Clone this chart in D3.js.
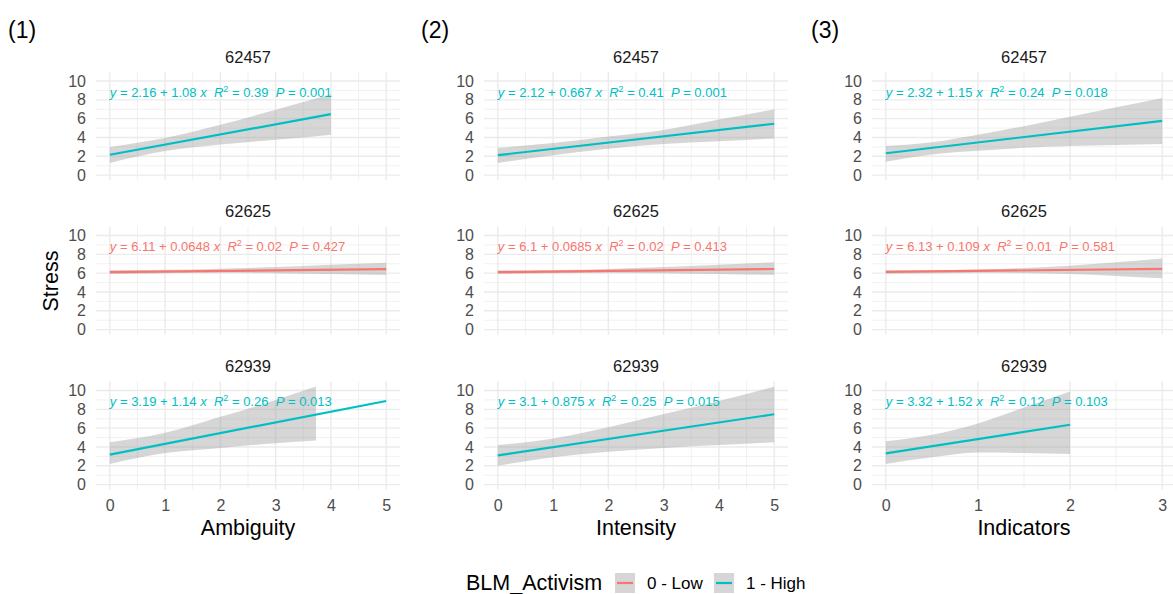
<!DOCTYPE html>
<html>
<head>
<meta charset="utf-8">
<script src="https://cdn.jsdelivr.net/npm/d3@7"></script>
<style>
  body { margin: 0; background: #fff; }
  svg { font-family: "Liberation Sans", Arial, sans-serif; }
  text { white-space: pre; }
</style>
</head>
<body>
<script>
const W = 1173, H = 594;

// facet strips, groups and panels
const facets = ["62457", "62625", "62939"];
const groups = ["0 - Low", "1 - High"];
const groupColors = ["#F8766D", "#00BFC4"];
const panelLabels = ["(1)", "(2)", "(3)"];
const predictors = ["Ambiguity", "Intensity", "Indicators"];
const xMaxes = [5, 5, 3];
const yTicks = [0, 2, 4, 6, 8, 10];
const facetGroup = [1, 0, 1];

// (1) Ambiguity
const ambBandX  = [[0, 1, 2, 3, 4], [0, 1, 2, 3, 4, 5], [0, 1, 2, 3, 3.73]];
const ambBandLo = [[1.3, 2.55, 3.25, 3.75, 4.3], [5.9, 6.0, 6.04, 6.0, 5.9, 5.8], [2.2, 3.35, 3.9, 4.4, 4.7]];
const ambBandHi = [[3.0, 3.95, 5.35, 6.95, 8.6], [6.32, 6.35, 6.48, 6.65, 6.9, 7.1], [4.5, 5.5, 7.2, 9.0, 10.44]];
const ambLineX  = [[0, 4], [0, 5], [0, 5]];
const ambLineY  = [[2.16, 6.48], [6.11, 6.43], [3.19, 8.89]];
const ambEq     = [["2.16", "1.08", "0.39", "0.001"], ["6.11", "0.0648", "0.02", "0.427"], ["3.19", "1.14", "0.26", "0.013"]];

// (2) Intensity
const intBandX  = [[0, 1, 2, 3, 4, 5], [0, 1, 2, 3, 4, 5], [0, 1, 2, 3, 4, 5]];
const intBandLo = [[1.3, 2.1, 2.8, 3.3, 3.6, 3.9], [5.92, 6.0, 6.05, 6.0, 5.9, 5.8], [2.0, 2.9, 3.5, 3.9, 4.2, 4.5]];
const intBandHi = [[2.9, 3.4, 4.1, 4.8, 5.9, 7.0], [6.3, 6.33, 6.45, 6.65, 6.9, 7.15], [4.2, 4.9, 6.1, 7.5, 8.9, 10.4]];
const intLineX  = [[0, 5], [0, 5], [0, 5]];
const intLineY  = [[2.12, 5.46], [6.1, 6.44], [3.1, 7.48]];
const intEq     = [["2.12", "0.667", "0.41", "0.001"], ["6.1", "0.0685", "0.02", "0.413"], ["3.1", "0.875", "0.25", "0.015"]];

// (3) Indicators
const indBandX  = [[0, 0.5, 1, 1.5, 2, 2.5, 3], [0, 0.5, 1, 1.5, 2, 2.5, 3], [0, 0.5, 1, 1.5, 2]];
const indBandLo = [[1.42, 2.2, 2.6, 2.9, 3.1, 3.2, 3.3], [5.95, 6.0, 6.05, 6.02, 5.9, 5.7, 5.45], [2.2, 2.9, 3.4, 3.35, 3.25]];
const indBandHi = [[3.1, 3.5, 4.3, 5.2, 6.2, 7.2, 8.2], [6.3, 6.33, 6.4, 6.55, 6.8, 7.15, 7.55], [4.6, 5.3, 6.5, 8.2, 9.9]];
const indLineX  = [[0, 3], [0, 3], [0, 2]];
const indLineY  = [[2.32, 5.77], [6.13, 6.46], [3.32, 6.36]];
const indEq     = [["2.32", "1.15", "0.24", "0.018"], ["6.13", "0.109", "0.01", "0.581"], ["3.32", "1.52", "0.12", "0.103"]];

const panels = [
  {bandX: ambBandX, lo: ambBandLo, hi: ambBandHi, lineX: ambLineX, lineY: ambLineY, eq: ambEq},
  {bandX: intBandX, lo: intBandLo, hi: intBandHi, lineX: intLineX, lineY: intLineY, eq: intEq},
  {bandX: indBandX, lo: indBandLo, hi: indBandHi, lineX: indLineX, lineY: indLineY, eq: indEq}
];

// layout
const colLeft = [96, 484, 872];
const colWidth = 304;
const labelX = [8, 421, 811];
const rowTop = [72, 226.5, 381.5];
const rowH = 108;
const gridColor = "#EBEBEB";

const svg = d3.select("body").append("svg")
  .attr("width", W)
  .attr("height", H);

function drawEq(g, x, y, color, e) {
  const t = g.append("text")
    .attr("x", x)
    .attr("y", y)
    .attr("fill", color)
    .style("font-size", "13px");
  t.append("tspan").attr("font-style", "italic").text("y");
  t.append("tspan").text(" = " + e[0] + " + " + e[1] + " ");
  t.append("tspan").attr("font-style", "italic").text("x");
  t.append("tspan").text("  ");
  t.append("tspan").attr("font-style", "italic").text("R");
  t.append("tspan").attr("dy", -5).style("font-size", "9px").text("2");
  t.append("tspan").attr("dy", 5).text(" = " + e[2] + "  ");
  t.append("tspan").attr("font-style", "italic").text("P");
  t.append("tspan").text(" = " + e[3]);
}

panels.forEach(function(p, c) {
  const xMax = xMaxes[c];
  const xScale = d3.scaleLinear()
    .domain([-0.05 * xMax, 1.05 * xMax])
    .range([colLeft[c], colLeft[c] + colWidth]);

  svg.append("text")
    .attr("x", labelX[c])
    .attr("y", 38)
    .attr("fill", "#000")
    .style("font-size", "23px")
    .text(panelLabels[c]);

  facets.forEach(function(f, r) {
    const yScale = d3.scaleLinear()
      .domain([-0.52, 10.96])
      .range([rowTop[r] + rowH, rowTop[r]]);
    const g = svg.append("g");
    const color = groupColors[facetGroup[r]];

    // grid: minor then major
    const xMinor = d3.range(0.5, xMax, 1);
    const xMajor = d3.range(0, xMax + 1, 1);
    const yMinor = [1, 3, 5, 7, 9];

    g.selectAll(".ymin").data(yMinor).enter().append("line")
      .attr("x1", colLeft[c]).attr("x2", colLeft[c] + colWidth)
      .attr("y1", d => yScale(d)).attr("y2", d => yScale(d))
      .attr("stroke", gridColor).attr("stroke-width", 0.7);
    g.selectAll(".xmin").data(xMinor).enter().append("line")
      .attr("x1", d => xScale(d)).attr("x2", d => xScale(d))
      .attr("y1", rowTop[r]).attr("y2", rowTop[r] + rowH)
      .attr("stroke", gridColor).attr("stroke-width", 0.7);
    g.selectAll(".ymaj").data(yTicks).enter().append("line")
      .attr("x1", colLeft[c]).attr("x2", colLeft[c] + colWidth)
      .attr("y1", d => yScale(d)).attr("y2", d => yScale(d))
      .attr("stroke", gridColor).attr("stroke-width", 1.4);
    g.selectAll(".xmaj").data(xMajor).enter().append("line")
      .attr("x1", d => xScale(d)).attr("x2", d => xScale(d))
      .attr("y1", rowTop[r]).attr("y2", rowTop[r] + rowH)
      .attr("stroke", gridColor).attr("stroke-width", 1.4);

    // y axis labels
    const yAxis = d3.axisLeft(yScale).tickValues(yTicks).tickSize(0).tickPadding(10);
    const ya = g.append("g")
      .attr("transform", "translate(" + colLeft[c] + ",0)")
      .call(yAxis);
    ya.select(".domain").remove();
    ya.selectAll("text")
      .attr("fill", "#4D4D4D")
      .style("font-size", "16px")
      .style("font-family", "Liberation Sans, Arial, sans-serif");

    // strip
    g.append("text")
      .attr("x", colLeft[c] + colWidth / 2)
      .attr("y", rowTop[r] - 9.5)
      .attr("text-anchor", "middle")
      .attr("fill", "#1A1A1A")
      .style("font-size", "16.5px")
      .text(f);

    // ribbon
    const band = p.bandX[r].map((x, i) => ({x: x, lo: p.lo[r][i], hi: p.hi[r][i]}));
    const area = d3.area()
      .x(d => xScale(d.x))
      .y0(d => yScale(d.lo))
      .y1(d => yScale(d.hi))
      .curve(d3.curveMonotoneX);
    g.append("path")
      .datum(band)
      .attr("d", area)
      .attr("fill", "#999999")
      .attr("fill-opacity", 0.4);

    // fit line
    const pts = p.lineX[r].map((x, i) => ({x: x, y: p.lineY[r][i]}));
    const line = d3.line().x(d => xScale(d.x)).y(d => yScale(d.y));
    g.append("path")
      .datum(pts)
      .attr("d", line)
      .attr("fill", "none")
      .attr("stroke", color)
      .attr("stroke-width", 2.2);

    drawEq(g, xScale(0), rowTop[r] + 24.5, color, p.eq[r]);

    // x axis on bottom row
    if (r === facets.length - 1) {
      const xAxis = d3.axisBottom(xScale).tickValues(xMajor).tickFormat(d3.format("d"))
        .tickSize(0).tickPadding(10);
      const xa = g.append("g")
        .attr("transform", "translate(0," + (rowTop[r] + rowH) + ")")
        .call(xAxis);
      xa.select(".domain").remove();
      xa.selectAll("text")
        .attr("fill", "#4D4D4D")
        .style("font-size", "16px")
        .style("font-family", "Liberation Sans, Arial, sans-serif");

      svg.append("text")
        .attr("x", colLeft[c] + colWidth / 2)
        .attr("y", 535)
        .attr("text-anchor", "middle")
        .attr("fill", "#000")
        .style("font-size", "21.5px")
        .text(predictors[c]);
    }
  });
});

svg.append("text")
  .attr("transform", "translate(58,281) rotate(-90)")
  .attr("text-anchor", "middle")
  .attr("fill", "#000")
  .style("font-size", "21.5px")
  .text("Stress");

// legend
const legend = svg.append("g");
legend.append("text")
  .attr("x", 466)
  .attr("y", 590)
  .attr("fill", "#000")
  .style("font-size", "21.5px")
  .text("BLM_Activism");

const keyX = [615, 714];
groups.forEach(function(gname, i) {
  legend.append("rect")
    .attr("x", keyX[i]).attr("y", 573)
    .attr("width", 20).attr("height", 20)
    .attr("fill", "#999999").attr("fill-opacity", 0.4);
  legend.append("line")
    .attr("x1", keyX[i] + 2).attr("x2", keyX[i] + 18)
    .attr("y1", 583).attr("y2", 583)
    .attr("stroke", groupColors[i]).attr("stroke-width", 2.2);
  legend.append("text")
    .attr("x", keyX[i] + 32)
    .attr("y", 589)
    .attr("fill", "#000")
    .style("font-size", "17px")
    .text(gname);
});
</script>
</body>
</html>
